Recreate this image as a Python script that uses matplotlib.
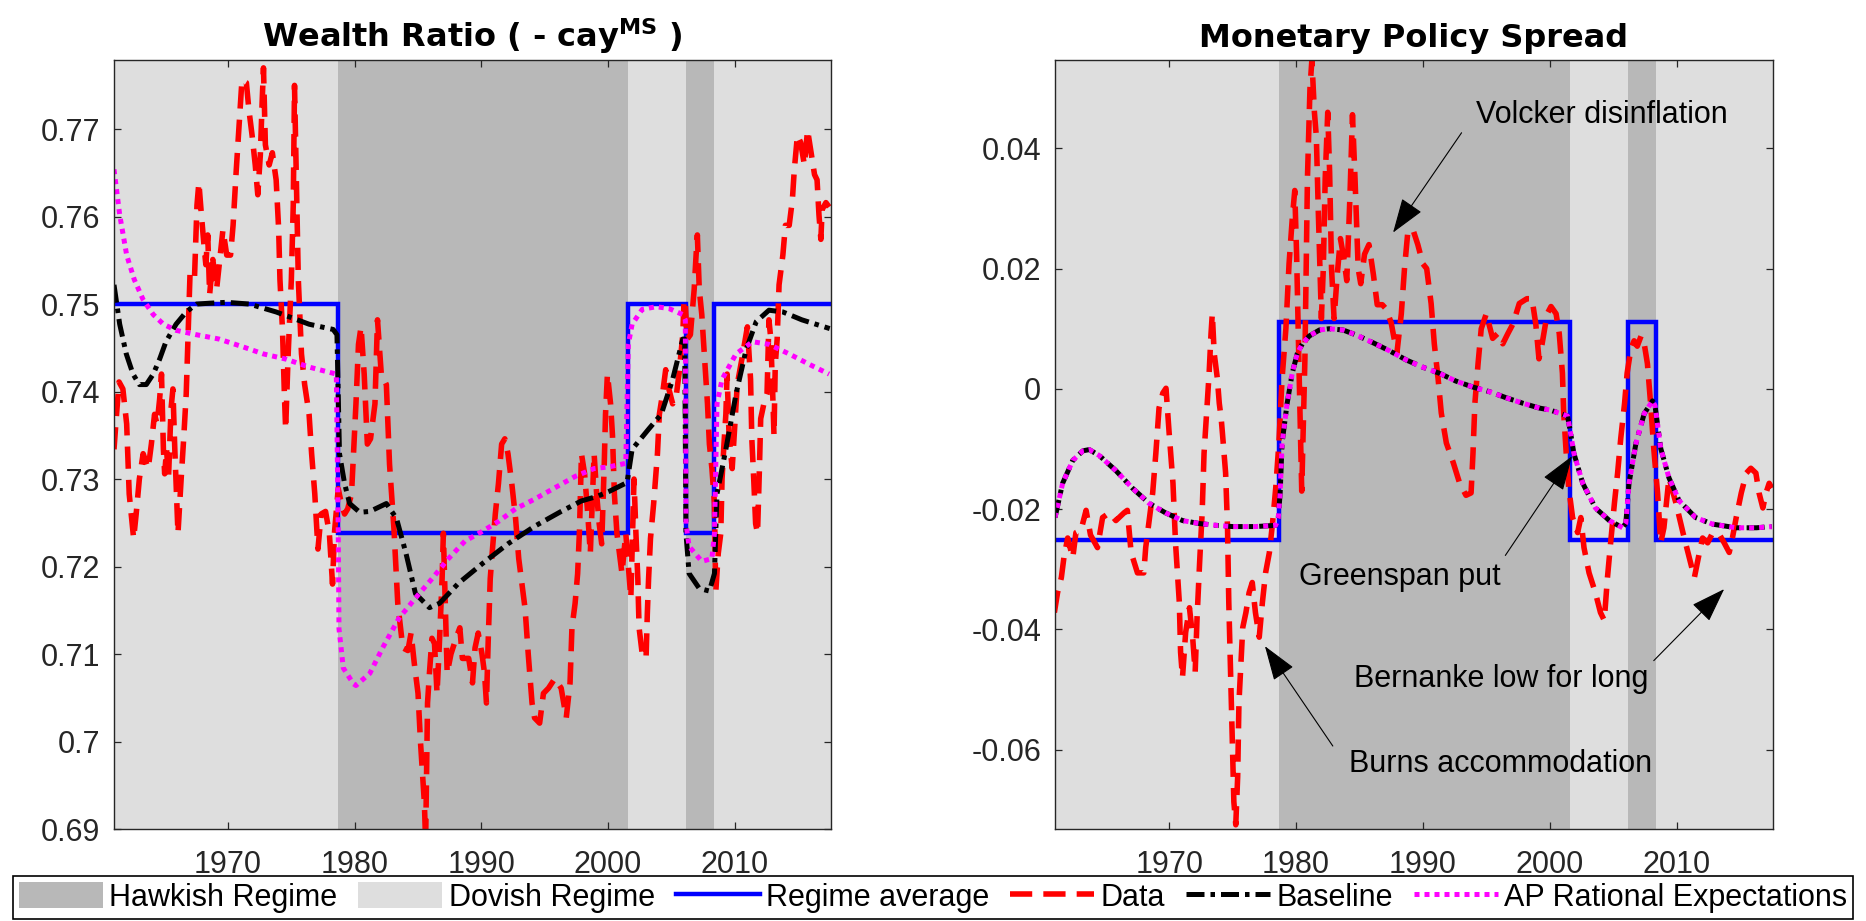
import matplotlib
matplotlib.use("Agg")
import matplotlib.pyplot as plt
from matplotlib.patches import Patch
from matplotlib.lines import Line2D
from matplotlib.ticker import FuncFormatter

plt.rcParams["font.family"] = ["Liberation Sans", "DejaVu Sans"]
plt.rcParams["mathtext.fontset"] = "custom"
plt.rcParams["mathtext.rm"] = "DejaVu Sans"
plt.rcParams["mathtext.bf"] = "DejaVu Sans:bold"

# ------------------ data ------------------
X_START, X_END = 1961.0, 2017.6
hawkish_periods = [(1978.66, 2001.6), (2006.17, 2008.38)]

# wealth ratio panel
wr_levels = (0.75, 0.7238)          # dovish, hawkish regime average
wr_data_t = [1961.0, 1961.2, 1961.4, 1961.7, 1962.0, 1962.2, 1962.55, 1962.75, 1963.0, 1963.3,
             1963.7, 1963.95, 1964.2, 1964.4, 1964.6, 1964.75, 1964.9, 1965.0, 1965.15, 1965.3,
             1965.5, 1965.65, 1965.8, 1966.05, 1966.3, 1966.5, 1966.7, 1966.85, 1967.0, 1967.35,
             1967.55, 1967.7, 1967.9, 1968.1, 1968.25, 1968.4, 1968.55, 1968.8, 1969.1, 1969.35,
             1969.6, 1969.9, 1970.2, 1970.4, 1970.65, 1970.9, 1971.1, 1971.45, 1971.65, 1971.9,
             1972.15, 1972.35, 1972.55, 1972.7, 1972.8, 1972.95, 1973.25, 1973.5, 1973.8, 1974.0,
             1974.1, 1974.3, 1974.45, 1974.55, 1974.75, 1975.0, 1975.15, 1975.25, 1975.4, 1975.55,
             1975.8, 1976.05, 1976.4, 1976.6, 1976.85, 1977.1, 1977.35, 1977.7, 1978.0, 1978.25,
             1978.4, 1978.7, 1978.95, 1979.2, 1979.45, 1979.75, 1980.1, 1980.3, 1980.5, 1980.75,
             1981.0, 1981.25, 1981.6, 1981.8, 1982.1, 1982.5, 1982.75, 1983.1, 1983.4, 1983.8,
             1984.2, 1984.45, 1984.7, 1985.0, 1985.1, 1985.2, 1985.35, 1985.5, 1985.6, 1985.75,
             1985.9, 1986.1, 1986.3, 1986.5, 1986.65, 1986.9, 1987.0, 1987.1, 1987.2, 1987.3,
             1987.6, 1988.0, 1988.3, 1988.5, 1989.0, 1989.3, 1989.5, 1989.75, 1990.05, 1990.25,
             1990.4, 1990.55, 1990.7, 1990.85, 1991.1, 1991.35, 1991.6, 1991.85, 1992.1, 1992.4,
             1992.7, 1992.95, 1993.2, 1993.45, 1993.7, 1994.0, 1994.2, 1994.6, 1994.9, 1995.3,
             1995.8, 1996.3, 1996.7, 1997.0, 1997.15, 1997.4, 1997.6, 1997.75, 1997.9, 1998.15,
             1998.4, 1998.6, 1998.9, 1999.1, 1999.3, 1999.5, 1999.7, 1999.8, 1999.95, 2000.2,
             2000.35, 2000.5, 2000.7, 2000.9, 2001.1, 2001.4, 2001.65, 2001.8, 2002.05, 2002.2,
             2002.35, 2002.45, 2002.7, 2003.0, 2003.1, 2003.2, 2003.35, 2003.6, 2003.9, 2004.05,
             2004.3, 2004.55, 2004.8, 2005.1, 2005.4, 2005.6, 2005.9, 2006.0, 2006.1, 2006.25,
             2006.5, 2006.8, 2006.95, 2007.05, 2007.2, 2007.4, 2007.6, 2007.85, 2008.0, 2008.2,
             2008.4, 2008.5, 2008.7, 2008.9, 2009.0, 2009.15, 2009.3, 2009.4, 2009.55, 2009.8,
             2010.2, 2010.6, 2010.9, 2011.0, 2011.25, 2011.35, 2011.5, 2011.65, 2011.8, 2011.95,
             2012.05, 2012.3, 2012.55, 2012.7, 2012.85, 2013.0, 2013.1, 2013.2, 2013.35, 2013.5,
             2013.8, 2014.0, 2014.3, 2014.55, 2014.7, 2014.95, 2015.2, 2015.5, 2015.75, 2016.0,
             2016.3, 2016.5, 2016.65, 2016.8, 2016.9, 2017.2, 2017.45]
wr_data = [0.7334, 0.7374, 0.7411, 0.7403, 0.7363, 0.7283, 0.7232, 0.7260, 0.7300, 0.7329,
           0.7312, 0.7340, 0.7374, 0.7363, 0.7391, 0.7420, 0.7334, 0.7306, 0.7334, 0.7300,
           0.7380, 0.7403, 0.7334, 0.7238, 0.7300, 0.7346, 0.7397, 0.7465, 0.7534, 0.7528,
           0.7613, 0.7639, 0.7602, 0.7568, 0.7545, 0.7579, 0.7511, 0.7551, 0.7517, 0.7551,
           0.7585, 0.7556, 0.7556, 0.7590, 0.7653, 0.7710, 0.7756, 0.7753, 0.7722, 0.7693,
           0.7659, 0.7625, 0.7670, 0.7733, 0.7770, 0.7682, 0.7659, 0.7673, 0.7642, 0.7585,
           0.7528, 0.7471, 0.7397, 0.7357, 0.7443, 0.7528, 0.7613, 0.7750, 0.7642, 0.7528,
           0.7443, 0.7408, 0.7374, 0.7329, 0.7283, 0.7220, 0.7260, 0.7263, 0.7238, 0.7180,
           0.7238, 0.7289, 0.7272, 0.7260, 0.7266, 0.7283, 0.7386, 0.7454, 0.7474, 0.7420,
           0.7340, 0.7346, 0.7386, 0.7482, 0.7420, 0.7408, 0.7317, 0.7243, 0.7158, 0.7107,
           0.7104, 0.7124, 0.7090, 0.7055, 0.7027, 0.6998, 0.6964, 0.6930, 0.6885, 0.7044,
           0.7078, 0.7118, 0.7112, 0.7055, 0.7100, 0.7186, 0.7238, 0.7186, 0.7130, 0.7078,
           0.7100, 0.7118, 0.7130, 0.7095, 0.7095, 0.7067, 0.7107, 0.7124, 0.7100, 0.7078,
           0.7044, 0.7120, 0.7186, 0.7215, 0.7260, 0.7295, 0.7340, 0.7346, 0.7329, 0.7295,
           0.7255, 0.7209, 0.7180, 0.7152, 0.7100, 0.7044, 0.7027, 0.7021, 0.7055, 0.7061,
           0.7072, 0.7061, 0.7027, 0.7067, 0.7130, 0.7158, 0.7192, 0.7243, 0.7329, 0.7306,
           0.7260, 0.7215, 0.7329, 0.7283, 0.7249, 0.7226, 0.7317, 0.7374, 0.7420, 0.7386,
           0.7350, 0.7283, 0.7238, 0.7215, 0.7192, 0.7238, 0.7192, 0.7164, 0.7300, 0.7238,
           0.7186, 0.7130, 0.7100, 0.7095, 0.7146, 0.7186, 0.7232, 0.7272, 0.7329, 0.7374,
           0.7397, 0.7425, 0.7403, 0.7386, 0.7397, 0.7420, 0.7465, 0.7505, 0.7500, 0.7460,
           0.7465, 0.7517, 0.7556, 0.7579, 0.7517, 0.7488, 0.7443, 0.7386, 0.7340, 0.7312,
           0.7272, 0.7170, 0.7215, 0.7238, 0.7300, 0.7340, 0.7374, 0.7420, 0.7350, 0.7312,
           0.7408, 0.7440, 0.7465, 0.7474, 0.7414, 0.7346, 0.7300, 0.7249, 0.7238, 0.7312,
           0.7369, 0.7386, 0.7397, 0.7482, 0.7460, 0.7397, 0.7350, 0.7431, 0.7460, 0.7522,
           0.7556, 0.7590, 0.7590, 0.7619, 0.7653, 0.7693, 0.7685, 0.7659, 0.7699, 0.7676,
           0.7648, 0.7642, 0.7602, 0.7574, 0.7608, 0.7616, 0.7611]

wr_base_t = [1961.0, 1961.45, 1961.97, 1962.5, 1963.0, 1963.55, 1964.1, 1964.6, 1965.1, 1965.9,
             1966.7, 1967.5, 1968.55, 1969.9, 1971.7, 1973.8, 1976.4, 1978.3, 1978.6, 1978.8,
             1979.2, 1979.6, 1980.4, 1981.2, 1982.5, 1983.3, 1984.05, 1984.8, 1985.9, 1986.7,
             1988.2, 1990.05, 1992.1, 1994.2, 1996.3, 1997.9, 1999.1, 2000.1, 2001.5, 2001.9,
             2003.2, 2004.2, 2005.1, 2005.9, 2006.05, 2006.15, 2006.4, 2007.2, 2008.0, 2008.4,
             2008.6, 2009.3, 2010.1, 2010.9, 2011.7, 2012.7, 2013.8, 2015.3, 2017.5]
wr_base = [0.7522, 0.7477, 0.7443, 0.7420, 0.7408, 0.7408, 0.7420, 0.7437, 0.7457, 0.7477,
           0.7491, 0.7500, 0.7501, 0.7502, 0.7500, 0.7491, 0.7477, 0.7471, 0.7465, 0.7329,
           0.7295, 0.7272, 0.7262, 0.7263, 0.7272, 0.7255, 0.7215, 0.7169, 0.7153, 0.7158,
           0.7181, 0.7203, 0.7226, 0.7246, 0.7263, 0.7275, 0.7280, 0.7286, 0.7296, 0.7334,
           0.7357, 0.7374, 0.7414, 0.7460, 0.7460, 0.7238, 0.7192, 0.7175, 0.7172, 0.7192,
           0.7283, 0.7334, 0.7397, 0.7448, 0.7480, 0.7493, 0.7491, 0.7482, 0.7472]

wr_ap_t = [1961.0, 1961.45, 1962.0, 1962.6, 1963.3, 1964.1, 1964.9, 1965.9, 1967.5, 1969.3,
           1971.2, 1972.8, 1974.6, 1976.4, 1978.55, 1978.7, 1978.76, 1979.1, 1979.9, 1980.1,
           1981.2, 1982.2, 1983.5, 1984.8, 1986.1, 1987.4, 1988.7, 1990.05, 1991.4, 1992.7,
           1994.2, 1995.8, 1997.4, 1998.9, 2000.1, 2001.4, 2001.6, 2001.9, 2002.7, 2003.8,
           2004.8, 2005.9, 2006.1, 2006.15, 2006.4, 2007.4, 2008.2, 2008.4, 2008.6, 2009.0,
           2010.1, 2011.4, 2012.7, 2014.3, 2015.9, 2017.45]
wr_ap = [0.7654, 0.7602, 0.7556, 0.7528, 0.7505, 0.7488, 0.7477, 0.7470, 0.7465, 0.7460,
         0.7451, 0.7443, 0.7437, 0.7428, 0.7420, 0.7243, 0.7129, 0.7084, 0.7066, 0.7064,
         0.7078, 0.7107, 0.7141, 0.7164, 0.7186, 0.7209, 0.7229, 0.7240, 0.7252, 0.7266,
         0.7277, 0.7290, 0.7303, 0.7312, 0.7314, 0.7318, 0.7454, 0.7477, 0.7494, 0.7497,
         0.7495, 0.7488, 0.7482, 0.7249, 0.7223, 0.7206, 0.7209, 0.7238, 0.7386, 0.7414,
         0.7443, 0.7457, 0.7454, 0.7443, 0.7431, 0.7420]

# monetary policy spread panel
mp_levels = (-0.0251, 0.0112)
mp_data_t = [1960.95, 1961.2, 1961.5, 1961.7, 1962.0, 1962.4, 1962.65, 1963.05, 1963.45, 1963.8,
             1964.35, 1964.75, 1965.3, 1965.8, 1966.45, 1966.7, 1967.0, 1967.5, 1968.0, 1968.15,
             1968.3, 1968.7, 1968.95, 1969.2, 1969.5, 1969.75, 1970.0, 1970.3, 1970.5, 1970.8,
             1970.9, 1971.05, 1971.3, 1971.6, 1971.85, 1972.05, 1972.2, 1972.4, 1972.6, 1972.75,
             1973.0, 1973.15, 1973.3, 1973.4, 1973.55, 1973.8, 1973.95, 1974.1, 1974.2, 1974.45,
             1974.6, 1974.7, 1974.85, 1975.0, 1975.1, 1975.25, 1975.4, 1975.5, 1975.8, 1976.05,
             1976.3, 1976.55, 1976.8, 1977.1, 1977.35, 1977.6, 1977.9, 1978.15, 1978.4, 1978.65,
             1978.9, 1979.2, 1979.45, 1979.7, 1979.9, 1980.05, 1980.25, 1980.45, 1980.7, 1980.9,
             1981.1, 1981.25, 1981.45, 1981.6, 1981.75, 1982.0, 1982.15, 1982.3, 1982.5, 1982.65,
             1982.8, 1983.0, 1983.25, 1983.5, 1983.75, 1984.0, 1984.25, 1984.45, 1984.65, 1984.9,
             1985.1, 1985.4, 1985.75, 1986.1, 1986.4, 1986.8, 1987.1, 1987.5, 1987.95, 1988.3,
             1988.55, 1988.8, 1989.2, 1989.6, 1990.0, 1990.3, 1990.65, 1990.9, 1991.2, 1991.45,
             1991.85, 1992.4, 1992.9, 1993.4, 1993.8, 1993.95, 1994.1, 1994.35, 1994.6, 1995.0,
             1995.5, 1995.9, 1996.3, 1996.7, 1997.1, 1997.6, 1998.2, 1998.6, 1998.9, 1999.15,
             1999.4, 1999.8, 2000.1, 2000.5, 2000.75, 2001.0, 2001.1, 2001.3, 2001.5, 2001.8,
             2002.2, 2002.45, 2002.7, 2003.1, 2003.6, 2004.0, 2004.3, 2004.55, 2004.8, 2005.1,
             2005.35, 2005.6, 2005.9, 2006.1, 2006.4, 2006.65, 2006.9, 2007.2, 2007.45, 2007.7,
             2007.95, 2008.2, 2008.5, 2008.75, 2009.0, 2009.4, 2009.95, 2010.5, 2011.0, 2011.4,
             2011.8, 2012.05, 2012.45, 2012.85, 2013.4, 2013.75, 2014.15, 2014.4, 2014.7, 2015.1,
             2015.5, 2015.85, 2016.25, 2016.5, 2016.8, 2017.05, 2017.3, 2017.5]
mp_data = [-0.0372, -0.0339, -0.0314, -0.0281, -0.0248, -0.0281, -0.0239, -0.0235, -0.0202, -0.0243,
           -0.0264, -0.0214, -0.0206, -0.0219, -0.0206, -0.0202, -0.0272, -0.0306, -0.0306, -0.0264,
           -0.0239, -0.0173, -0.0107, -0.0032, -0.0007, 0.0001, -0.0074, -0.0157, -0.0256, -0.0355,
           -0.0438, -0.0480, -0.0405, -0.0364, -0.0413, -0.0471, -0.0380, -0.0289, -0.0206, -0.0107,
           -0.0024, 0.0026, 0.0092, 0.0125, 0.0059, 0.0017, -0.0024, -0.0049, -0.0074, -0.0140,
           -0.0231, -0.0355, -0.0480, -0.0604, -0.0687, -0.0725, -0.0645, -0.0522, -0.0397, -0.0372,
           -0.0339, -0.0322, -0.0372, -0.0413, -0.0355, -0.0306, -0.0272, -0.0223, -0.0165, -0.0090,
           0.0017, 0.0100, 0.0208, 0.0282, 0.0330, 0.0220, 0.0020, -0.0170, 0.0050, 0.0350,
           0.0500, 0.0547, 0.0460, 0.0420, 0.0300, 0.0117, 0.0200, 0.0350, 0.0460, 0.0360,
           0.0200, 0.0117, 0.0190, 0.0250, 0.0220, 0.0180, 0.0320, 0.0456, 0.0350, 0.0200,
           0.0175, 0.0224, 0.0240, 0.0190, 0.0140, 0.0140, 0.0133, 0.0110, 0.0059, 0.0125,
           0.0200, 0.0258, 0.0266, 0.0240, 0.0208, 0.0200, 0.0142, 0.0075, 0.0017, -0.0040,
           -0.0090, -0.0123, -0.0157, -0.0177, -0.0173, -0.0107, -0.0024, 0.0042, 0.0100, 0.0125,
           0.0084, 0.0092, 0.0075, 0.0092, 0.0108, 0.0142, 0.0150, 0.0150, 0.0108, 0.0050,
           0.0075, 0.0125, 0.0137, 0.0125, 0.0092, 0.0026, -0.0040, -0.0107, -0.0165, -0.0214,
           -0.0239, -0.0214, -0.0264, -0.0306, -0.0339, -0.0372, -0.0385, -0.0314, -0.0256, -0.0190,
           -0.0140, -0.0082, -0.0024, 0.0026, 0.0067, 0.0080, 0.0071, 0.0088, 0.0075, 0.0042,
           -0.0024, -0.0099, -0.0173, -0.0256, -0.0231, -0.0148, -0.0190, -0.0239, -0.0281, -0.0314,
           -0.0272, -0.0248, -0.0256, -0.0239, -0.0243, -0.0256, -0.0272, -0.0248, -0.0214, -0.0173,
           -0.0140, -0.0132, -0.0140, -0.0173, -0.0198, -0.0173, -0.0157, -0.0165]

# baseline and AP rational expectations lie on top of each other in this panel
mp_base_t = [1961.0, 1961.6, 1962.4, 1963.2, 1963.7, 1964.5, 1965.8, 1967.1, 1968.4, 1969.7,
             1971.05, 1972.4, 1973.7, 1975.0, 1976.8, 1978.4, 1978.6, 1978.75, 1978.9, 1979.3,
             1979.7, 1980.1, 1980.5, 1981.05, 1981.85, 1982.6, 1983.7, 1984.7, 1986.05, 1987.4,
             1988.7, 1990.0, 1991.3, 1992.6, 1993.95, 1995.3, 1996.6, 1997.9, 1999.2, 2000.0,
             2001.4, 2001.65, 2001.9, 2002.6, 2003.6, 2004.7, 2005.75, 2006.0, 2006.25, 2006.8,
             2007.45, 2008.1, 2008.3, 2008.75, 2009.4, 2010.2, 2011.5, 2012.85, 2014.7, 2016.3,
             2017.5]
mp_base = [-0.0214, -0.0157, -0.0119, -0.0103, -0.0101, -0.0111, -0.0136, -0.0165, -0.0190, -0.0206,
           -0.0219, -0.0224, -0.0227, -0.0229, -0.0229, -0.0227, -0.0215, -0.0173, -0.0090, -0.0024,
           0.0026, 0.0059, 0.0075, 0.0088, 0.0098, 0.0100, 0.0098, 0.0090, 0.0077, 0.0063,
           0.0048, 0.0036, 0.0026, 0.0013, 0.0003, -0.0005, -0.0015, -0.0024, -0.0032, -0.0035,
           -0.0045, -0.0074, -0.0107, -0.0157, -0.0198, -0.0219, -0.0231, -0.0223, -0.0157, -0.0090,
           -0.0041, -0.0020, -0.0028, -0.0099, -0.0148, -0.0186, -0.0214, -0.0225, -0.0231, -0.0231,
           -0.0229]
mp_ap_t, mp_ap = mp_base_t, mp_base

annotations = [
    ("Volcker disinflation", (2004.1, 0.0455), (1993.05, 0.0426), (1987.65, 0.0260)),
    ("Greenspan put", (1988.2, -0.0313), (1996.5, -0.0277), (2001.75, -0.0112)),
    ("Bernanke low for long", (1996.2, -0.0483), (2008.2, -0.0452), (2013.75, -0.0333)),
    ("Burns accommodation", (1996.1, -0.0624), (1982.9, -0.0594), (1977.55, -0.0428)),
]
# ---------------------------------------------------------------

HAWK_C = "#b8b8b8"
DOVE_C = "#dedede"
TXT_C = "#262626"
FS = 22
TITLE_FONT = dict(family="DejaVu Sans", fontsize=23, fontweight="bold")

red_style = dict(color=(1, 0, 0), lw=4.0, dashes=(4.0, 2.0), dash_capstyle="butt")
blk_style = dict(color="k", lw=3.6, dashes=(3.6, 1.2, 0.9, 1.2), dash_capstyle="butt")
mag_style = dict(color=(1, 0, 1), lw=3.6, dashes=(1.0, 1.0), dash_capstyle="butt")
blu_style = dict(color=(0, 0, 1), lw=3.2, solid_joinstyle="miter")


def regime_line(levels):
    dov, hawk = levels
    xs, ys = [X_START], [dov]
    for a, b in hawkish_periods:
        xs += [a, a, b, b]
        ys += [dov, hawk, hawk, dov]
    xs.append(X_END)
    ys.append(dov)
    return xs, ys


def shade(ax):
    ax.axvspan(X_START, X_END, color=DOVE_C, lw=0, zorder=0)
    for a, b in hawkish_periods:
        ax.axvspan(a, b, color=HAWK_C, lw=0, zorder=0.5)


def style_axes(ax, ylim):
    ax.set_xlim(X_START, X_END)
    ax.set_ylim(*ylim)
    ax.set_xticks([1970, 1980, 1990, 2000, 2010])
    ax.yaxis.set_major_formatter(FuncFormatter(lambda v, p: f"{round(v, 4):g}"))
    ax.tick_params(direction="in", length=5, width=0.9, colors=TXT_C,
                   labelsize=FS, top=True, right=True)
    ax.tick_params(axis="x", pad=15)
    ax.tick_params(axis="y", pad=10)
    for sp in ax.spines.values():
        sp.set_color(TXT_C)
        sp.set_linewidth(1.0)
        sp.set_zorder(10)


fig = plt.figure(figsize=(18.66, 9.21), dpi=100)
W, H = 1866, 921
ax1 = fig.add_axes([114 / W, 1 - 829 / H, 717 / W, 769 / H])
ax2 = fig.add_axes([1055 / W, 1 - 829 / H, 718 / W, 769 / H])

# ---- left panel ----
shade(ax1)
ax1.plot(*regime_line(wr_levels), zorder=2, **blu_style)
ax1.plot(wr_data_t, wr_data, zorder=3, **red_style)
ax1.plot(wr_base_t, wr_base, zorder=4, **blk_style)
ax1.plot(wr_ap_t, wr_ap, zorder=5, **mag_style)
style_axes(ax1, (0.69, 0.7779))
ax1.set_yticks([0.69, 0.70, 0.71, 0.72, 0.73, 0.74, 0.75, 0.76, 0.77])
ax1.set_title(r"Wealth Ratio ( - cay$^{\mathbf{MS}}$ )", pad=9, **TITLE_FONT)

# ---- right panel ----
shade(ax2)
ax2.plot(*regime_line(mp_levels), zorder=2, **blu_style)
ax2.plot(mp_data_t, mp_data, zorder=3, **red_style)
ax2.plot(mp_base_t, mp_base, zorder=4, **blk_style)
ax2.plot(mp_ap_t, mp_ap, zorder=5, **mag_style)
style_axes(ax2, (-0.0732, 0.0547))
ax2.set_yticks([-0.06, -0.04, -0.02, 0, 0.02, 0.04])
ax2.set_title("Monetary Policy Spread", pad=9, **TITLE_FONT)

for label, txt_xy, tail, head in annotations:
    ax2.text(*txt_xy, label, fontsize=FS, ha="center", va="center", color="k", zorder=8)
    ax2.annotate("", xy=head, xytext=tail, zorder=8,
                 arrowprops=dict(arrowstyle="-|>,head_length=1.1,head_width=0.38",
                                 mutation_scale=20, lw=0.8, color="k",
                                 shrinkA=0, shrinkB=0))

# ---- legend ----
handles = [
    Patch(facecolor=HAWK_C, edgecolor="none"),
    Patch(facecolor=DOVE_C, edgecolor="none"),
    Line2D([], [], **blu_style),
    Line2D([], [], **red_style),
    Line2D([], [], **blk_style),
    Line2D([], [], **mag_style),
]
labels = ["Hawkish Regime", "Dovish Regime", "Regime average", "Data", "Baseline",
          "AP Rational Expectations"]
leg = fig.legend(handles, labels, loc="upper center", bbox_to_anchor=(933 / W, 1 - 876 / H),
                 ncol=6, frameon=True, fancybox=False, edgecolor="k", framealpha=1,
                 fontsize=FS, handlelength=2.75, handleheight=0.95, handletextpad=0.2,
                 columnspacing=0.69, borderpad=0.2, borderaxespad=0)
leg.get_frame().set_linewidth(1.2)

fig.savefig("out.png", dpi=100)
plt.close(fig)
